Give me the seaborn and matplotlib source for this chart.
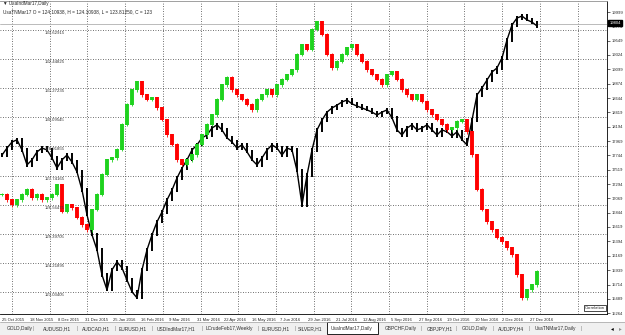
import numpy as np
import pandas as pd
import matplotlib
matplotlib.use("Agg")
import matplotlib.pyplot as plt
import matplotlib.transforms as mtransforms
from matplotlib.patches import Rectangle
import seaborn as sns

# UsaIndMar17 daily closes (sampled roughly every third bar)
dow_close = [17750, 17860, 17955, 17990, 17830, 17595, 17675, 17800, 17860, 17830,
             17705, 17545, 17675, 17750, 17640, 17485, 17200, 16810, 16495, 16260,
             15865, 15630, 15945, 16070, 15975, 15785, 15600, 15505, 15945, 16260,
             16495, 16700, 16855, 17045, 17200, 17390, 17545, 17675, 17830, 17910,
             18020, 18065, 18175, 18225, 18145, 18020, 17955, 17860, 17910, 17800,
             17675, 17595, 17705, 17830, 17910, 17860, 17750, 17860, 17830, 17505,
             16965, 17435, 17830, 18145, 18300, 18425, 18490, 18535, 18585, 18615,
             18555, 18520, 18490, 18460, 18425, 18380, 18425, 18460, 18335, 18145,
             18065, 18175, 18225, 18145, 18175, 18225, 18145, 18065, 18145, 18115,
             18050, 18115, 17990, 17910, 18300, 18695, 18805, 18930, 19055, 19120,
             19275, 19560, 19795, 19905, 19935, 19875, 19840, 19780]

# UsaTNMar17 overlay (correlation indicator) closes
tn_close = [126.96, 126.75, 126.55, 126.75, 126.96, 127.16, 126.83, 126.96, 126.75, 126.83,
            126.96, 127.36, 126.27, 126.55, 126.43, 126.03, 125.74, 125.54, 126.35, 126.96,
            127.77, 128.37, 128.45, 128.78, 129.79, 130.60, 131.20, 131.52, 131.00, 130.80,
            130.88, 130.47, 129.99, 129.38, 128.98, 128.37, 128.17, 128.37, 128.57, 128.98,
            129.38, 129.79, 130.19, 130.80, 131.40, 131.69, 131.20, 131.00, 130.80, 130.60,
            130.39, 130.80, 131.00, 131.20, 131.00, 131.40, 131.61, 131.81, 132.01, 132.62,
            133.02, 132.82, 133.63, 133.95, 133.43, 132.62, 132.09, 132.34, 132.62, 132.90,
            133.02, 132.62, 132.34, 132.01, 131.81, 131.61, 131.40, 131.81, 131.93, 131.61,
            131.20, 131.00, 130.80, 131.00, 130.72, 130.39, 130.19, 129.99, 129.79, 129.58,
            129.66, 129.91, 129.99, 129.50, 128.57, 127.16, 126.35, 125.86, 125.54, 125.22,
            125.05, 124.81, 124.53, 123.72, 122.79, 123.11, 123.31, 123.85]

date_labels = ["25 Oct 2015", "18 Nov 2015", "8 Dec 2015", "31 Dec 2015", "25 Jan 2016",
               "16 Feb 2016", "9 Mar 2016", "31 Mar 2016", "22 Apr 2016", "16 May 2016",
               "7 Jun 2016", "29 Jun 2016", "21 Jul 2016", "12 Aug 2016", "5 Sep 2016",
               "27 Sep 2016", "19 Oct 2016", "10 Nov 2016", "2 Dec 2016", "27 Dec 2016"]

price_labels = [19999, 19774, 19549, 19324, 19099, 18874, 18644, 18419, 18194, 17969, 17744,
                17519, 17294, 17069, 16844, 16619, 16394, 16169, 15939, 15714, 15489, 15264]
last_price = 19804

tn_labels = [133.62915, 132.44825, 131.27235, 130.09545, 128.91855,
             127.74165, 126.56475, 125.39705, 124.21895, 123.03405]

tabs = ["GOLD,Daily", "AUDUSD,H1", "AUDCAD,H1", "EURUSD,H1", "USDIndMar17,H1",
        "LCrudeFeb17,Weekly", "EURUSD,H1", "SILVER,H1", "UsaIndMar17,Daily",
        "GBPCHF,Daily", "GBPJPY,H1", "GOLD,Daily", "AUDJPY,H4", "UsaTNMar17,Daily"]
active_tab = "UsaIndMar17,Daily"

header1 = "\u25bc UsaIndMar17,Daily"
header2 = "UsaTNMar17 O = 124.10938, H = 124.10938, L = 123.81250, C = 123"

df = pd.DataFrame({"bar": np.arange(len(dow_close)), "dow": dow_close, "tn": tn_close})
df["dow_prev"] = df["dow"].shift(1).fillna(df["dow"])
df["tn_prev"] = df["tn"].shift(1).fillna(df["tn"])

sns.set_style("white")
plt.rcParams["font.family"] = ["Liberation Sans", "DejaVu Sans"]

W, H = 625, 335
fig = plt.figure(figsize=(W / 100, H / 100), dpi=100)
fx = lambda px: px / W
fy = lambda py: 1 - py / H

ax = fig.add_axes([0, fy(314), fx(607), (313) / H])
ax2 = ax.twinx()

# main series: black bars
ax.vlines(df["bar"], df[["dow", "dow_prev"]].min(axis=1) - 25,
          df[["dow", "dow_prev"]].max(axis=1) + 25, color="black", lw=1.4, zorder=3)
sns.lineplot(data=df, x="bar", y="dow", ax=ax, color="black", lw=1.0, zorder=3)

# overlay candles
up = df["tn"] >= df["tn_prev"]
lo = df[["tn", "tn_prev"]].min(axis=1)
hi = df[["tn", "tn_prev"]].max(axis=1)
ax2.vlines(df["bar"][up], lo[up] - 0.06, hi[up] + 0.06, color="#1ed21e", lw=0.6, zorder=4)
ax2.vlines(df["bar"][~up], lo[~up] - 0.06, hi[~up] + 0.06, color="#ff0000", lw=0.6, zorder=4)
ax2.vlines(df["bar"][up], lo[up], hi[up] + 0.03, color="#1ed21e", lw=2.8, zorder=4)
ax2.vlines(df["bar"][~up], lo[~up], hi[~up] + 0.03, color="#ff0000", lw=2.8, zorder=4)

ax.set_xlim(-0.4, 121)
ax.set_ylim(15251, 20172)
ax2.set_ylim(122.145, 134.802)
ax2.set_yticks([])
ax2.set_ylabel("")
ax.set_xlabel("")
ax.set_ylabel("")

# grid
tr_grid = mtransforms.blended_transform_factory(ax.transAxes, ax2.transData)
for v in tn_labels:
    ax.plot([0, 1], [v, v], transform=tr_grid, color="#404040", lw=0.6,
            ls=(0, (1, 2)), zorder=1)
for n in range(16):
    ax.axvline(2 + 7.54 * n, color="#404040", lw=0.6, ls=(0, (1, 2)), zorder=1)

# last price line and box
ax.axhline(last_price, color="#b0b0b0", lw=0.6, zorder=2)
tr_price = mtransforms.blended_transform_factory(ax.transAxes, ax.transData)
ax.text(1.004, last_price + 20, str(last_price), transform=tr_price, fontsize=3.0,
        color="white", va="center", ha="left", zorder=10, clip_on=False,
        bbox=dict(boxstyle="square,pad=0.25", fc="black", ec="black"))

# overlay scale labels
tr_tn = mtransforms.blended_transform_factory(ax2.transAxes, ax2.transData)
for v in tn_labels:
    ax2.text(fx(45) / fx(607), v - 0.04, f"{v:.5f}", transform=tr_tn, fontsize=3.1,
             color="#333333", va="top", ha="left", zorder=6)

# axes and ticks
ax.yaxis.tick_right()
ax.set_yticks(price_labels)
ax.set_yticklabels([str(p) for p in price_labels])
ax.tick_params(axis="y", length=2, pad=1.5, labelsize=3.0, width=0.5)
ax.set_xticks([5.56 * j for j in range(len(date_labels))])
ax.set_xticklabels(date_labels)
ax.tick_params(axis="x", length=2, pad=1.0, labelsize=3.0, width=0.5)
for lab in ax.get_xticklabels():
    lab.set_ha("left")
for s in ["right", "bottom"]:
    ax.spines[s].set_color("black")
    ax.spines[s].set_linewidth(0.6)
ax.spines["top"].set_color("#909090")
ax.spines["top"].set_linewidth(0.6)
ax.spines["left"].set_visible(False)
for s in ax2.spines.values():
    s.set_visible(False)

ax.text(0.997, 0.012, "Correlation", transform=ax.transAxes, fontsize=3.0, ha="right",
        va="bottom", zorder=10,
        bbox=dict(boxstyle="square,pad=0.3", fc="white", ec="black", lw=0.5))

# header
fig.text(fx(3), fy(4), header1, fontsize=3.3, va="center", ha="left")
fig.text(fx(3), fy(12), header2, fontsize=3.4, va="center", ha="left")

# tab bar
fig.patches.append(Rectangle((0, 0), 1, fy(322), transform=fig.transFigure,
                             fc="#f0f0f0", ec="none", zorder=0))
fig.lines.append(plt.Line2D([0, 1], [fy(322), fy(322)], transform=fig.transFigure,
                            color="#a0a0a0", lw=0.5))
tab_x = [20, 57, 96, 133, 176, 229, 276, 310, 352, 401, 440, 475, 511, 555]
sep_x = [33, 77, 115, 152, 202, 258, 295, 421, 456, 493, 529, 581]
for name, cx in zip(tabs, tab_x):
    if name == active_tab:
        fig.patches.append(Rectangle((fx(327), fy(334)), fx(51), 12.5 / H,
                                     transform=fig.transFigure, fc="white", ec="black",
                                     lw=0.6, zorder=1))
    fig.text(fx(cx), fy(328.5), name, fontsize=3.5, ha="center", va="center",
             color="#303030", zorder=2)
for sx in sep_x:
    fig.text(fx(sx), fy(328.5), "|", fontsize=3.5, ha="center", va="center", color="#808080")
fig.text(fx(612), fy(328.5), "\u25c2", fontsize=4, ha="center", va="center", color="black",
         family="DejaVu Sans")
fig.text(fx(620), fy(328.5), "\u25b8", fontsize=4, ha="center", va="center", color="#909090",
         family="DejaVu Sans")

fig.savefig("out.png", dpi=100)
